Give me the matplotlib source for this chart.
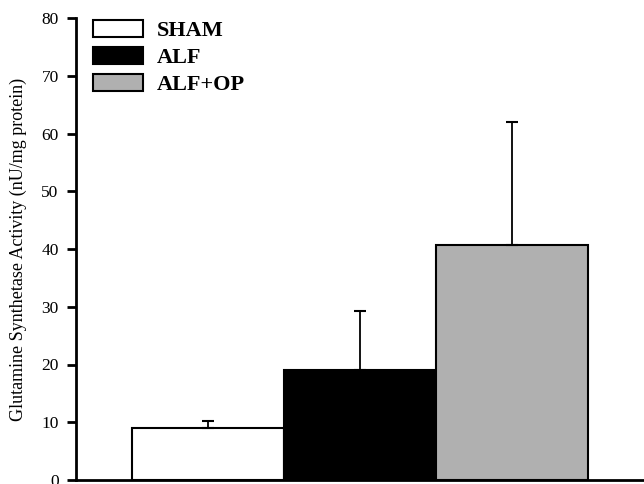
import matplotlib
matplotlib.use("Agg")
import matplotlib.pyplot as plt
from matplotlib.patches import Patch

plt.rcParams['font.family'] = ['Liberation Serif', 'DejaVu Serif']

groups = ['SHAM', 'ALF', 'ALF+OP']
means = [9.0, 19.1, 40.7]
errs = [1.2, 10.1, 21.3]
colors = ['white', 'black', '#b0b0b0']

fig = plt.figure(figsize=(6.44, 4.84), dpi=100)
ax = fig.add_axes([76/644, 4/484, 568/644, 462/484])

pos = list(range(len(groups)))
ax.bar(pos, means, width=1.0, color=colors, edgecolor='black', linewidth=1.5,
       yerr=[[0]*3, errs], error_kw=dict(ecolor='black', elinewidth=1.3, capsize=4, capthick=1.5))

ax.set_xlim(-0.868, 2.868)
ax.set_ylim(0, 80)
ax.set_yticks(range(0, 81, 10))
ax.set_xticks([])
for s in ['top', 'right']:
    ax.spines[s].set_visible(False)
ax.spines['left'].set_linewidth(2)
ax.spines['bottom'].set_linewidth(2)
ax.tick_params(axis='y', direction='out', length=6.5, width=2, labelsize=12.5, pad=6)
ax.set_ylabel('Glutamine Synthetase Activity (nU/mg protein)', fontsize=13, labelpad=10)

handles = [Patch(facecolor=c, edgecolor='black', linewidth=1.5) for c in colors]
leg = ax.legend(handles, groups, loc='upper left', bbox_to_anchor=(93/644, 1 - 20/484),
                bbox_transform=fig.transFigure, frameon=False, borderpad=0, borderaxespad=0,
                prop=dict(size=16, weight='bold'), handlelength=2.25, handleheight=0.82,
                labelspacing=0.25, handletextpad=0.62)

fig.savefig('out.png', dpi=100)
